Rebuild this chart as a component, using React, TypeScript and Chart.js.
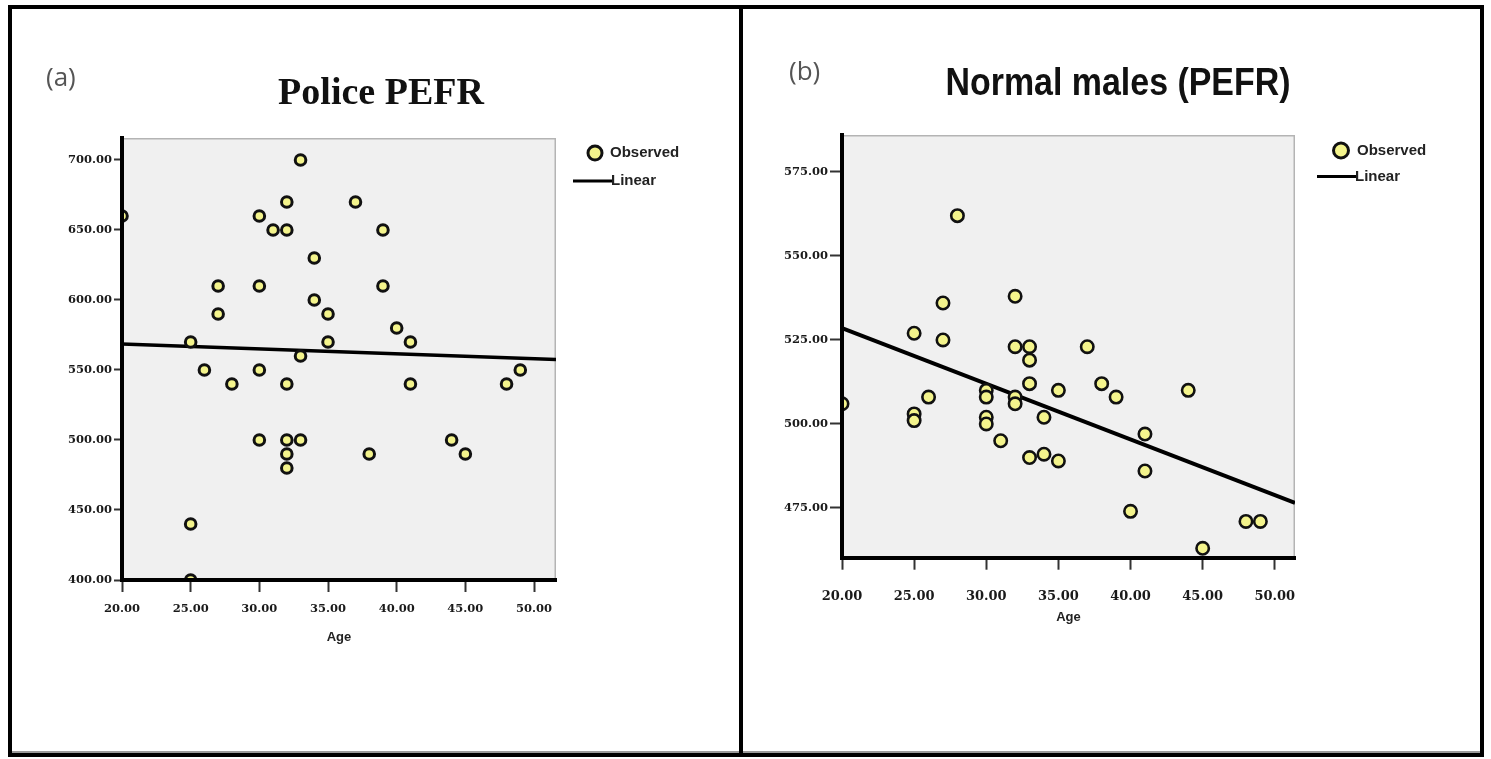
import React, { useEffect, useRef } from "react";
import { Chart, registerables } from "chart.js";

Chart.register(...registerables);

// ---------- data ----------
const policeAge = [20, 25, 25, 25, 26, 27, 27, 28, 30, 30, 30, 30, 31, 32, 32, 32, 32, 32, 32, 33, 33, 33, 34, 34, 35, 35, 37, 38, 39, 39, 40, 41, 41, 44, 45, 48, 49];
const policePefr = [660, 570, 440, 400, 550, 610, 590, 540, 660, 610, 550, 500, 650, 670, 650, 540, 500, 490, 480, 700, 560, 500, 630, 600, 590, 570, 670, 490, 650, 610, 580, 570, 540, 500, 490, 540, 550];
const policeFitAge = [20, 51.6];
const policeFitPefr = [568.5, 557.5];

const normalAge = [20, 25, 25, 25, 26, 27, 27, 28, 30, 30, 30, 30, 31, 32, 32, 32, 32, 33, 33, 33, 33, 34, 34, 35, 35, 37, 38, 39, 40, 41, 41, 44, 45, 48, 49];
const normalPefr = [506, 527, 503, 501, 508, 536, 525, 562, 510, 508, 502, 500, 495, 538, 523, 508, 506, 523, 519, 512, 490, 502, 491, 510, 489, 523, 512, 508, 474, 497, 486, 510, 463, 471, 471];
const normalFitAge = [20, 51.4];
const normalFitPefr = [528.5, 476.5];

const seriesLabels = ["Observed", "Linear"];
const xAxisTitle = "Age";
const panelLetters = ["(a)", "(b)"];
const panelTitles = ["Police PEFR", "Normal males (PEFR)"];

// ---------- styling ----------
const YELLOW = "#f4f48c";

const decorPlugin = {
  id: "decor",
  beforeDraw(chart: any, _args: any, opts: any) {
    const { ctx, chartArea: a } = chart;
    ctx.save();
    ctx.fillStyle = opts.plotBg;
    ctx.fillRect(a.left, a.top, a.right - a.left, a.bottom - a.top);
    ctx.strokeStyle = opts.plotEdge;
    ctx.lineWidth = 1.5;
    ctx.beginPath();
    ctx.moveTo(a.left, a.top + 0.75);
    ctx.lineTo(a.right - 0.75, a.top + 0.75);
    ctx.lineTo(a.right - 0.75, a.bottom);
    ctx.stroke();
    ctx.restore();
  },
  afterDraw(chart: any, _args: any, opts: any) {
    const { ctx } = chart;
    ctx.save();
    // panel letter
    ctx.fillStyle = opts.letterColor;
    ctx.font = opts.letterFont;
    ctx.textAlign = "left";
    ctx.textBaseline = "middle";
    ctx.fillText(opts.letter, opts.letterX, opts.letterY);
    // title
    ctx.save();
    ctx.translate(opts.titleX, opts.titleY);
    ctx.scale(opts.titleScaleX, 1);
    ctx.fillStyle = "#111";
    ctx.font = opts.titleFont;
    ctx.textAlign = "center";
    ctx.textBaseline = "alphabetic";
    ctx.fillText(opts.title, 0, 0);
    ctx.restore();
    // legend
    const ds0 = chart.data.datasets[0];
    const ds1 = chart.data.datasets[1];
    ctx.beginPath();
    ctx.arc(opts.legCircleX, opts.legCircleY, opts.legRadius, 0, Math.PI * 2);
    ctx.fillStyle = ds0.backgroundColor;
    ctx.fill();
    ctx.lineWidth = 3;
    ctx.strokeStyle = "#111";
    ctx.stroke();
    ctx.font = "bold 15px 'Liberation Sans'";
    ctx.fillStyle = "#222";
    ctx.textBaseline = "middle";
    ctx.textAlign = "left";
    ctx.fillText(ds0.label, opts.legTextX, opts.legCircleY);
    ctx.beginPath();
    ctx.moveTo(opts.legLineX1, opts.legLineY);
    ctx.lineTo(opts.legLineX2, opts.legLineY);
    ctx.lineWidth = 3;
    ctx.strokeStyle = "#000";
    ctx.stroke();
    ctx.fillText(ds1.label, opts.legLineX2 - 3, opts.legLineY);
    ctx.restore();
  },
};

type Panel = {
  ages: number[];
  values: number[];
  fitX: number[];
  fitY: number[];
  xMin: number;
  xMax: number;
  yMin: number;
  yMax: number;
  yStep: number;
  pad: { left: number; top: number; right: number; bottom: number };
  yAxisW: number;
  xAxisH: number;
  xTickLen: number;
  xTickPad: number;
  xTickSize: number;
  yTickLen: number;
  yTickPad: number;
  yTickSize: number;
  pointRadius: number;
  pointBorder: number;
  lineWidth: number;
  decor: any;
};

function buildConfig(p: Panel): any {
  const fmt = (v: any) => Number(v).toFixed(2);
  return {
    type: "scatter",
    data: {
      datasets: [
        {
          type: "scatter",
          label: seriesLabels[0],
          data: p.ages.map((a, i) => ({ x: a, y: p.values[i] })),
          backgroundColor: YELLOW,
          borderColor: "#111",
          borderWidth: p.pointBorder,
          pointRadius: p.pointRadius,
          pointHoverRadius: p.pointRadius,
          clip: 0,
          order: 0,
        },
        {
          type: "line",
          label: seriesLabels[1],
          data: p.fitX.map((a, i) => ({ x: a, y: p.fitY[i] })),
          borderColor: "#000",
          backgroundColor: "#000",
          borderWidth: p.lineWidth,
          pointRadius: 0,
          showLine: true,
          fill: false,
          clip: 0,
          order: 1,
        },
      ],
    },
    options: {
      responsive: false,
      animation: false,
      devicePixelRatio: 1,
      events: [],
      layout: { padding: p.pad },
      plugins: {
        legend: { display: false },
        tooltip: { enabled: false },
        title: { display: false },
        decor: p.decor,
      },
      scales: {
        x: {
          type: "linear",
          min: p.xMin,
          max: p.xMax,
          afterFit: (s: any) => {
            s.height = p.xAxisH;
          },
          ticks: {
            stepSize: 5,
            includeBounds: false,
            autoSkip: false,
            maxRotation: 0,
            padding: p.xTickPad,
            color: "#1a1a1a",
            font: { family: "'DejaVu Serif'", weight: "bold", size: p.xTickSize },
            callback: fmt,
          },
          grid: {
            display: true,
            drawOnChartArea: false,
            drawTicks: true,
            tickLength: p.xTickLen,
            color: "#333",
            tickColor: "#333",
            tickWidth: 2,
          },
          border: { display: true, color: "#000", width: 4, z: 1 },
          title: {
            display: true,
            text: xAxisTitle,
            color: "#222",
            font: { family: "'Liberation Sans'", weight: "bold", size: 13 },
            padding: 0,
          },
        },
        y: {
          type: "linear",
          min: p.yMin,
          max: p.yMax,
          afterFit: (s: any) => {
            s.width = p.yAxisW;
          },
          ticks: {
            stepSize: p.yStep,
            includeBounds: false,
            autoSkip: false,
            padding: p.yTickPad,
            color: "#1a1a1a",
            font: { family: "'DejaVu Serif'", weight: "bold", size: p.yTickSize },
            callback: fmt,
          },
          grid: {
            display: true,
            drawOnChartArea: false,
            drawTicks: true,
            tickLength: p.yTickLen,
            color: "#333",
            tickColor: "#333",
            tickWidth: 2,
          },
          border: { display: true, color: "#000", width: 4, z: 1 },
        },
      },
    },
    plugins: [decorPlugin],
  };
}

const leftPanel: Panel = {
  ages: policeAge,
  values: policePefr,
  fitX: policeFitAge,
  fitY: policeFitPefr,
  xMin: 20,
  xMax: 51.6,
  yMin: 400,
  yMax: 715.7,
  yStep: 50,
  pad: { left: 20, top: 138, right: 185, bottom: 114.2 },
  yAxisW: 102,
  xAxisH: 64.8,
  xTickLen: 12,
  xTickPad: 10,
  xTickSize: 11.5,
  yTickLen: 8,
  yTickPad: 2,
  yTickSize: 11.5,
  pointRadius: 5.3,
  pointBorder: 3,
  lineWidth: 3.5,
  decor: {
    plotBg: "#f0f0f0",
    plotEdge: "#b4b4b4",
    letter: panelLetters[0],
    letterX: 46,
    letterY: 79,
    letterColor: "#555",
    letterFont: "26px 'Open Sans'",
    title: panelTitles[0],
    titleX: 381,
    titleY: 104,
    titleScaleX: 1,
    titleFont: "bold 38px 'Liberation Serif'",
    legCircleX: 595,
    legCircleY: 153,
    legRadius: 7,
    legTextX: 610,
    legLineX1: 573,
    legLineX2: 614,
    legLineY: 181,
  },
};

const rightPanel: Panel = {
  ages: normalAge,
  values: normalPefr,
  fitX: normalFitAge,
  fitY: normalFitPefr,
  xMin: 20,
  xMax: 51.4,
  yMin: 460.2,
  yMax: 586,
  yStep: 25,
  pad: { left: 20, top: 135, right: 196, bottom: 134.2 },
  yAxisW: 81,
  xAxisH: 67.1,
  xTickLen: 12,
  xTickPad: 19,
  xTickSize: 13,
  yTickLen: 12,
  yTickPad: 2,
  yTickSize: 11.5,
  pointRadius: 6.2,
  pointBorder: 2.6,
  lineWidth: 4,
  decor: {
    plotBg: "#f0f0f0",
    plotEdge: "#b4b4b4",
    letter: panelLetters[1],
    letterX: 48,
    letterY: 73,
    letterColor: "#555",
    letterFont: "26px 'Open Sans'",
    title: panelTitles[1],
    titleX: 377,
    titleY: 95,
    titleScaleX: 0.87,
    titleFont: "bold 39px 'Liberation Sans'",
    legCircleX: 600,
    legCircleY: 150.5,
    legRadius: 7.5,
    legTextX: 616,
    legLineX1: 576,
    legLineX2: 617,
    legLineY: 176.5,
  },
};

function PanelChart({ panel, left, width }: { panel: Panel; left: number; width: number }) {
  const ref = useRef<HTMLCanvasElement | null>(null);
  useEffect(() => {
    if (!ref.current) return;
    const chart = new Chart(ref.current, buildConfig(panel));
    return () => chart.destroy();
  }, [panel]);
  return (
    <canvas
      ref={ref}
      width={width}
      height={759}
      style={{ position: "absolute", left, top: 0, width, height: 759 }}
    />
  );
}

export default function App() {
  const frame: React.CSSProperties = {
    position: "absolute",
    top: 5,
    height: 752,
    border: "4px solid #000",
    boxSizing: "border-box",
    pointerEvents: "none",
    boxShadow: "inset 0 -2px 0 #9a9a9a",
  };
  return (
    <div
      style={{
        position: "absolute",
        left: 0,
        top: 0,
        width: 1491,
        height: 759,
        background: "#fff",
        overflow: "hidden",
      }}
    >
      <PanelChart panel={leftPanel} left={0} width={741} />
      <PanelChart panel={rightPanel} left={741} width={750} />
      <div style={{ ...frame, left: 8, width: 735 }} />
      <div style={{ ...frame, left: 739, width: 745 }} />
    </div>
  );
}
